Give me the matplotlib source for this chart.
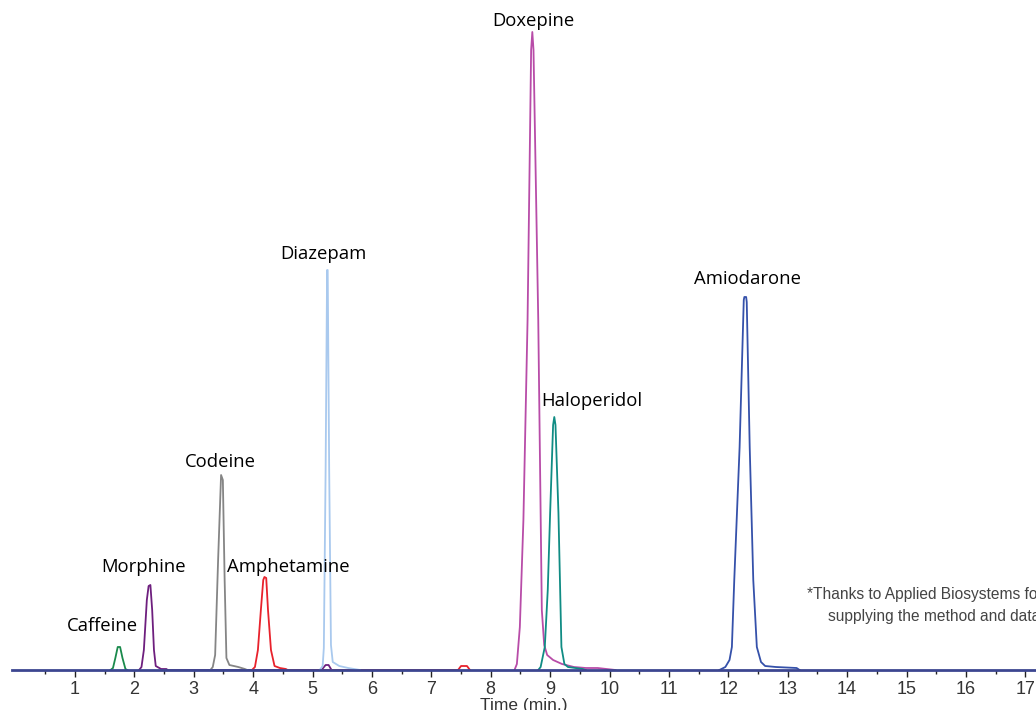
import numpy as np
import matplotlib.pyplot as plt

# peak outlines: (time in min, signal)
caffeine_t = [1.60, 1.64, 1.68, 1.72, 1.76, 1.80, 1.85, 1.88]
caffeine_y = [0, 2, 12, 23, 23, 12, 1, 0]

morphine_t = [2.08, 2.12, 2.16, 2.21, 2.24, 2.27, 2.30, 2.33, 2.36, 2.45, 2.54, 2.56,
              5.15, 5.22, 5.27, 5.32]
morphine_y = [0, 3, 20, 70, 84, 85, 60, 20, 4, 1, 1, 0,
              0, 5, 5, 0]

codeine_t = [3.28, 3.32, 3.36, 3.41, 3.46, 3.49, 3.52, 3.55, 3.60, 3.75, 3.86, 3.90]
codeine_y = [0, 3, 15, 110, 195, 190, 90, 12, 5, 3, 1, 0]

amphet_t = [3.98, 4.03, 4.08, 4.13, 4.17, 4.19, 4.22, 4.25, 4.30, 4.36, 4.45, 4.55, 4.58,
            7.45, 7.50, 7.60, 7.65]
amphet_y = [0, 3, 20, 60, 90, 93, 92, 60, 20, 4, 2, 1, 0,
            0, 4, 4, 0]

diazepam_t = [5.12, 5.17, 5.19, 5.22, 5.245, 5.255, 5.28, 5.31, 5.34, 5.45, 5.60, 5.80]
diazepam_y = [0, 4, 22, 200, 400, 400, 200, 25, 8, 4, 2, 0]

doxepine_t = [8.40, 8.44, 8.49, 8.55, 8.62, 8.68, 8.70, 8.72, 8.80, 8.86, 8.90, 8.95,
              9.05, 9.20, 9.40, 9.60, 9.80, 10.10]
doxepine_y = [0, 6, 43, 150, 350, 620, 638, 620, 350, 60, 25, 15,
              10, 6, 3, 2, 2, 0]

halo_t = [8.80, 8.84, 8.91, 8.96, 9.00, 9.05, 9.07, 9.09, 9.14, 9.19, 9.24, 9.30, 9.55, 9.60]
halo_y = [0, 3, 23, 80, 157, 245, 253, 245, 157, 23, 6, 3, 1, 0]

amio_t = [11.85, 11.95, 12.02, 12.06, 12.10, 12.19, 12.26, 12.27, 12.30, 12.31, 12.36,
          12.42, 12.48, 12.55, 12.62, 12.80, 13.15, 13.20]
amio_y = [0, 3, 10, 23, 90, 223, 370, 373, 373, 368, 223,
          90, 23, 8, 4, 3, 2, 0]

names = ['Caffeine', 'Morphine', 'Codeine', 'Amphetamine', 'Diazepam',
         'Doxepine', 'Haloperidol', 'Amiodarone']
times = [caffeine_t, morphine_t, codeine_t, amphet_t, diazepam_t, doxepine_t, halo_t, amio_t]
signals = [caffeine_y, morphine_y, codeine_y, amphet_y, diazepam_y, doxepine_y, halo_y, amio_y]
colors = ['#1a8a4c', '#6e1f7e', '#858585', '#e8222c', '#a9c9ee',
          '#b84ca8', '#108c84', '#3551aa']
# label anchor (time, height) for each name
label_x = [1.455, 2.16, 3.44, 4.59, 5.19, 8.71, 9.70, 12.33]
label_y = [44, 103, 208, 103, 416, 649, 269, 391]

note_lines = ['*Thanks to Applied Biosystems for', 'supplying the method and data.']

narrow = ['Liberation Sans Narrow', 'Liberation Sans', 'DejaVu Sans']

fig = plt.figure(figsize=(10.36, 7.10), dpi=100)
ax = fig.add_axes([12/1036, 40/710, 1 - 12/1036, 670/710])

for t, s, c in zip(times, signals, colors):
    ax.plot(t, s, color=c, lw=1.3, zorder=2)

for n, x, y in zip(names, label_x, label_y):
    ax.text(x, y, n, ha='center', va='center', fontsize=13.3,
            family='Open Sans', color='black')

ax.set_xlim(-0.06, 17.18)
ax.set_ylim(0, 670)
for sp in ['left', 'top', 'right']:
    ax.spines[sp].set_visible(False)
ax.spines['bottom'].set_color('#3c4690')
ax.spines['bottom'].set_linewidth(2)
ax.spines['bottom'].set_zorder(3)
ax.set_yticks([])
ax.set_xticks(range(1, 18))
ax.set_xticks(np.arange(0.5, 17.5, 1), minor=True)
ax.tick_params(axis='x', which='major', length=5, width=1, color='#222222',
               labelsize=13, labelcolor='#333333', pad=3)
ax.tick_params(axis='x', which='minor', length=3, width=1, color='#222222')
for lab in ax.get_xticklabels():
    lab.set_family(narrow)
ax.set_xlabel('Time (min.)', fontsize=12.5, color='#333333', family=narrow, labelpad=0)

# footnote, cut at the right edge as in the original
fig.text(807/1036, 1 - 594/710, note_lines[0], ha='left', va='center', fontsize=11.2,
         color='#444444', family=narrow)
fig.text(828/1036, 1 - 616/710, note_lines[1], ha='left', va='center', fontsize=11.2,
         color='#444444', family=narrow)

fig.savefig('out.png', dpi=100)
